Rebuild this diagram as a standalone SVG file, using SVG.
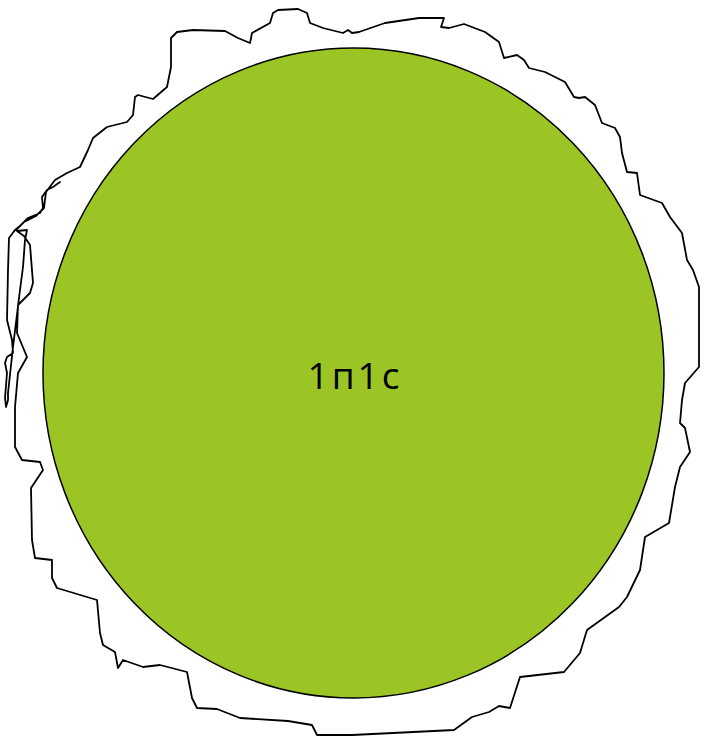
<svg xmlns="http://www.w3.org/2000/svg" width="704" height="736" viewBox="0 0 704 736">
<style>
.outline{fill:none;stroke:#000;stroke-width:1.8;stroke-linejoin:round;stroke-linecap:round}
.node{fill:#9ac524;stroke:#000;stroke-width:1.5}
.label{font-family:"Open Sans","Liberation Sans",Arial,sans-serif;font-size:37px;letter-spacing:3px;fill:#000}
</style>
<g id="connectors"></g>
<g id="outline">
<path class="outline" d="M60,182 L53,187 L47,190 L42,197 L43,208 L40,213 L28,218 L20,226 L15,230 L9,238 L8,270 L7,320 L12,340 L13,353 L7,357 L5,363 L7,373 L5,398 L6,407 L8,400 L8,393 L13,347 L20,290 L23,267 L25,240 L27,230 L17,231 L24,236 L30,245 L33,283 L30,293 L18,305 L17,333 L27,357 L18,373 L15,407 L15,447 L22,460 L40,462 L43,470 L31,488 L32,540 L35,558 L52,560 L52,578 L57,588 L97,600 L100,633 L103,645 L115,652 L118,668 L123,660 L143,667 L160,665 L187,672 L192,698 L197,708 L217,709 L240,718 L288,721 L312,725 L317,735 L352,735 L454,730 L472,717 L489,712 L499,706 L510,708 L520,677 L564,672 L580,653 L587,630 L619,607 L627,597 L640,570 L645,537 L669,523 L675,487 L680,467 L690,452 L685,428 L680,423 L682,400 L685,383 L699,367 L699,287 L693,270 L687,260 L682,233 L670,217 L662,203 L640,195 L637,173 L627,172 L622,153 L620,137 L615,128 L602,123 L595,105 L585,97 L579,98 L574,97 L565,82 L545,72 L529,68 L524,60 L517,55 L504,58 L499,42 L485,32 L464,24 L449,28 L441,27 L444,18 L419,18 L385,23 L359,32 L352,33 L348,30 L343,33 L323,28 L310,23 L307,13 L298,9 L278,10 L273,13 L270,23 L252,33 L250,43 L238,38 L225,31 L193,30 L177,32 L171,38 L171,67 L167,87 L153,99 L138,95 L135,97 L133,115 L127,122 L107,127 L93,138 L88,150 L80,167 L67,173 L55,180 L46,192 L44,208 L36,216 L24,222 L16,230"/>
</g>
<g id="node-1p1s">
<ellipse class="node" cx="353.5" cy="373" rx="310.5" ry="325"/>
<text class="label" x="355" y="389" text-anchor="middle">1п1с</text>
</g>
</svg>
